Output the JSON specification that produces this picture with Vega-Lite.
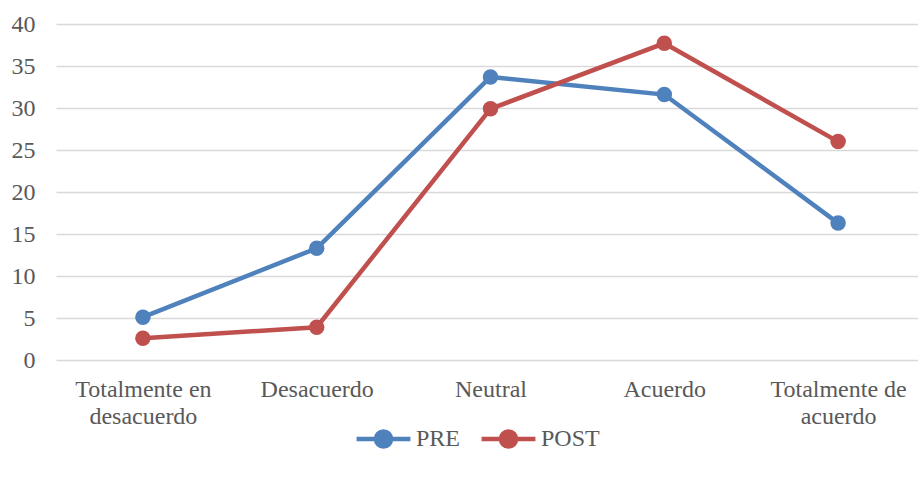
{
  "$schema": "https://vega.github.io/schema/vega-lite/v6.json",
  "width": 869,
  "height": 336,
  "autosize": {"type": "none"},
  "padding": {"left": 56, "top": 24, "right": 0, "bottom": 117},
  "background": "white",
  "config": {
    "view": {"stroke": null},
    "font": "Liberation Serif, serif"
  },
  "data": {
    "values": [
      {"cat": "Totalmente en desacuerdo", "serie": "PRE", "valor": 5.1},
      {"cat": "Desacuerdo", "serie": "PRE", "valor": 13.3},
      {"cat": "Neutral", "serie": "PRE", "valor": 33.7},
      {"cat": "Acuerdo", "serie": "PRE", "valor": 31.6},
      {"cat": "Totalmente de acuerdo", "serie": "PRE", "valor": 16.3},
      {"cat": "Totalmente en desacuerdo", "serie": "POST", "valor": 2.6},
      {"cat": "Desacuerdo", "serie": "POST", "valor": 3.9},
      {"cat": "Neutral", "serie": "POST", "valor": 29.9},
      {"cat": "Acuerdo", "serie": "POST", "valor": 37.7},
      {"cat": "Totalmente de acuerdo", "serie": "POST", "valor": 26.0}
    ]
  },
  "encoding": {
    "x": {
      "field": "cat",
      "type": "nominal",
      "sort": ["Totalmente en desacuerdo", "Desacuerdo", "Neutral", "Acuerdo", "Totalmente de acuerdo"],
      "scale": {"type": "point", "padding": 0.5},
      "axis": {
        "title": null,
        "domain": false,
        "ticks": false,
        "grid": false,
        "labelAngle": 0,
        "labelFont": "Liberation Serif, serif",
        "labelFontSize": 24,
        "labelColor": "#595959",
        "labelPadding": 36,
        "labelLineHeight": 27,
        "labelBaseline": "alphabetic",
        "labelExpr": "datum.value == 'Totalmente en desacuerdo' ? ['Totalmente en', 'desacuerdo'] : datum.value == 'Totalmente de acuerdo' ? ['Totalmente de', 'acuerdo'] : datum.value"
      }
    },
    "y": {
      "field": "valor",
      "type": "quantitative",
      "scale": {"domain": [0, 40]},
      "axis": {
        "title": null,
        "values": [0, 5, 10, 15, 20, 25, 30, 35, 40],
        "domain": false,
        "ticks": false,
        "gridColor": "#d9d9d9",
        "gridWidth": 1.5,
        "labelFont": "Liberation Serif, serif",
        "labelFontSize": 24,
        "labelColor": "#595959",
        "labelPadding": 21
      }
    },
    "color": {
      "field": "serie",
      "type": "nominal",
      "scale": {"domain": ["PRE", "POST"], "range": ["#4F81BD", "#C0504D"]},
      "legend": {
        "title": null,
        "orient": "none",
        "legendX": 298,
        "legendY": 385,
        "direction": "horizontal",
        "symbolType": "M -1 0 L 1 0 M -0.28 0 A 0.28 0.28 0 1 1 0.28 0 A 0.28 0.28 0 1 1 -0.28 0 Z",
        "symbolSize": 2900,
        "symbolStrokeWidth": 4.5,
        "labelFont": "Liberation Serif, serif",
        "labelFontSize": 24,
        "labelColor": "#595959",
        "labelOffset": 3,
        "columnPadding": 11
      }
    }
  },
  "layer": [
    {"mark": {"type": "line", "strokeWidth": 4.5, "strokeCap": "round"}},
    {"mark": {"type": "point", "filled": true, "size": 240, "opacity": 1, "shape": "circle"}}
  ]
}
